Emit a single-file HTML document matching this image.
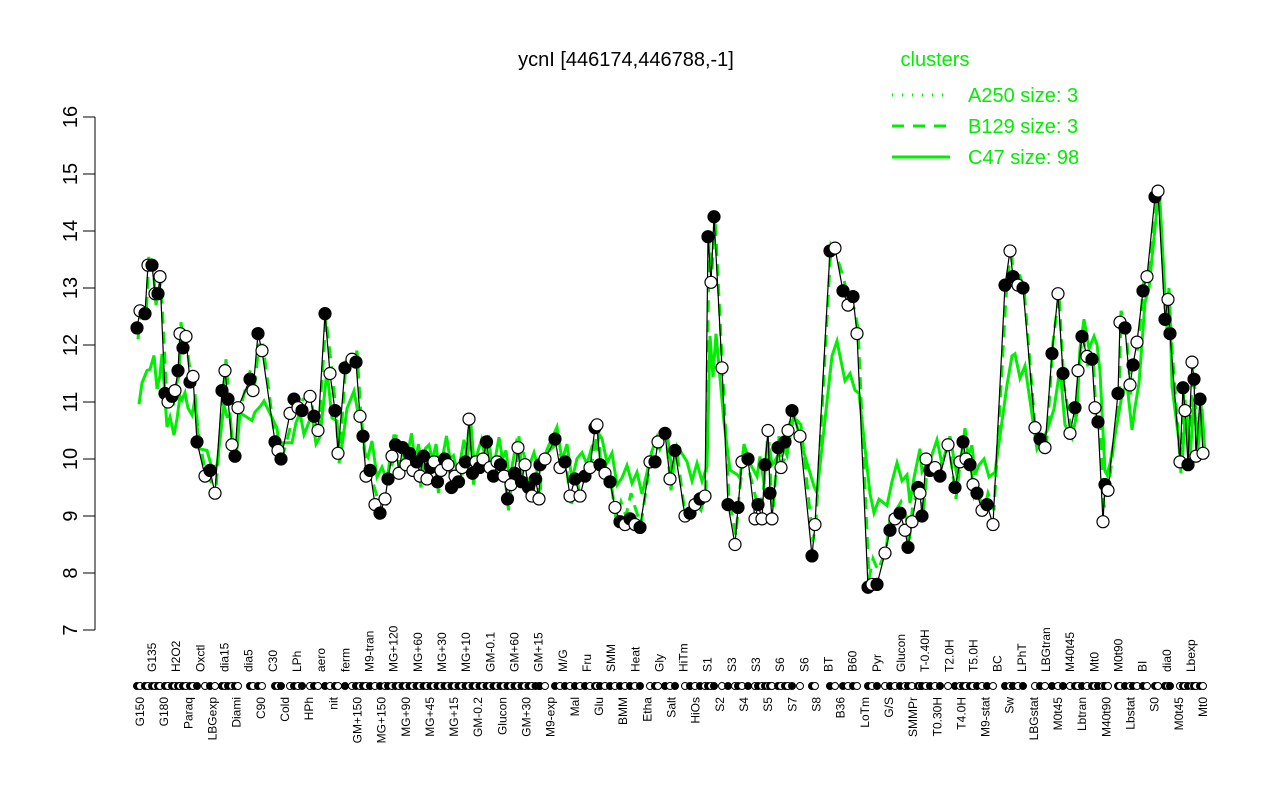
<!DOCTYPE html>
<html><head><meta charset="utf-8"><style>body{margin:0;background:#fff}svg{display:block;font-family:"Liberation Sans",sans-serif}</style></head>
<body><svg id="s" width="1280" height="800" xmlns="http://www.w3.org/2000/svg">
<text x="626" y="66" font-size="20" text-anchor="middle">ycnI [446174,446788,-1]</text>
<g stroke="#000" stroke-width="1"><line x1="95" y1="117" x2="95" y2="630"/></g>
<g id="yt"></g>
<text x="935" y="66" font-size="20" fill="#00ee00" text-anchor="middle">clusters</text>
<g stroke="#00ee00" stroke-width="3">
<line x1="892" y1="95" x2="950" y2="95" stroke-dasharray="1 9"/>
<line x1="892" y1="126" x2="950" y2="126" stroke-dasharray="12 9"/>
<line x1="892" y1="157" x2="950" y2="157"/></g>
<g font-size="20" fill="#00ee00"><text x="968" y="102">A250 size: 3</text><text x="968" y="133">B129 size: 3</text><text x="968" y="164">C47 size: 98</text></g>
<g id="g"></g><g id="b"></g><g id="p"></g><g id="r"></g><g id="l" font-size="12"></g>
</svg>
<script>
var NS="http://www.w3.org/2000/svg";function el(p,t,a,tx){var e=document.createElementNS(NS,t);for(var k in a)e.setAttribute(k,a[k]);if(tx)e.textContent=tx;document.getElementById(p).appendChild(e);return e;}
function Y(v){return 630-(v-7)*57;}
for(var v=7;v<=16;v++){el("yt","line",{x1:95,y1:Y(v),x2:83,y2:Y(v),stroke:"#000"});el("yt","text",{x:70,y:Y(v)+7,"font-size":20,"text-anchor":"middle",transform:"rotate(-90 70 "+Y(v)+")"},v);}
var d=[[137,12.3],[140,12.6],[145,12.55],[148,13.4],[152,13.4],[155,12.9],[158,12.9],[160,13.2],[165,11.15],[168,11.0],[172,11.1],[175,11.2],[178,11.55],[180,12.2],[183,11.95],[186,12.15],[190,11.35],[193,11.45],[197,10.3],[205,9.7],[210,9.8],[215,9.4],[222,11.2],[225,11.55],[228,11.05],[232,10.25],[235,10.05],[238,10.9],[250,11.4],[253,11.2],[258,12.2],[262,11.9],[275,10.3],[278,10.15],[281,10.0],[290,10.8],[294,11.05],[298,10.9],[302,10.85],[310,11.1],[314,10.75],[318,10.5],[325,12.55],[330,11.5],[335,10.85],[338,10.1],[345,11.6],[352,11.75],[356,11.7],[360,10.75],[363,10.4],[366,9.7],[370,9.8],[375,9.2],[380,9.05],[385,9.3],[388,9.65]];
var mid=[10.05,10.25,9.75,10.2,9.9,10.1,9.8,9.95,9.7,10.05,9.65,9.85,9.95,9.6,9.8,10.0,9.9,9.5,9.7,9.6,9.85,9.95,10.7,9.75,9.95,9.85,10.0,10.3,9.85,9.7,9.95,9.9,9.7,9.3,9.55,9.75,10.2,9.6,9.9,9.5,9.35,9.65,9.3];
for(var i=0;i<mid.length;i++)d.push([392+i*3.5,mid[i]]);
d=d.concat([[540,9.9],[545,10.0],[555,10.35],[560,9.85],[565,9.95],[570,9.35],[575,9.65],[580,9.35],[585,9.7],[590,9.85],[595,10.55],[597,10.6],[600,9.9],[605,9.75],[610,9.6],[615,9.15],[620,8.9],[625,8.85],[630,8.95],[635,8.85],[640,8.8],[650,9.95],[655,9.95],[658,10.3],[665,10.45],[670,9.65],[675,10.15],[685,9.0],[690,9.05],[695,9.2],[700,9.3],[705,9.35],[708,13.9],[711,13.1],[714,14.25],[722,11.6],[728,9.2],[735,8.5],[738,9.15],[742,9.95],[748,10.0],[755,8.95],[758,9.2],[762,8.95],[765,9.9],[768,10.5],[770,9.4],[772,8.95],[778,10.2],[781,9.85],[785,10.3],[788,10.5],[792,10.85],[800,10.4],[812,8.3],[815,8.85],[830,13.65],[835,13.7],[843,12.95],[848,12.7],[853,12.85],[857,12.2],[868,7.75],[872,7.8],[877,7.8],[885,8.35],[890,8.75],[895,8.95],[900,9.05],[905,8.75],[908,8.45],[912,8.9],[918,9.5],[920,9.4],[922,9.0],[926,10.0],[930,9.8],[935,9.85],[940,9.7],[948,10.25],[955,9.5],[960,9.95],[963,10.3],[966,10.0],[970,9.9],[973,9.55],[977,9.4],[982,9.1],[987,9.2],[993,8.85],[1005,13.05],[1010,13.65],[1013,13.2],[1018,13.05],[1023,13.0],[1035,10.55],[1040,10.35],[1045,10.2],[1052,11.85],[1058,12.9],[1063,11.5],[1070,10.45],[1075,10.9],[1078,11.55],[1082,12.15],[1087,11.8],[1092,11.75],[1095,10.9],[1098,10.65],[1103,8.9],[1105,9.55],[1108,9.45],[1118,11.15],[1120,12.4],[1125,12.3],[1130,11.3],[1133,11.65],[1137,12.05],[1143,12.95],[1147,13.2],[1155,14.6],[1158,14.7],[1165,12.45],[1168,12.8],[1170,12.2],[1180,9.95],[1183,11.25],[1185,10.85],[1188,9.9],[1192,11.7],[1194,11.4],[1196,10.05],[1200,11.05],[1203,10.1]]);
var pb="",pg="",pd="";d.forEach(function(q,i){pb+=q[0]+","+Y(q[1])+" ";
var gv=10.3+(q[1]-10.3)*0.45+((i*7)%5-2)*0.12; if(q[0]>1075&&q[0]<1100)gv+=1.2; if(q[0]>1140&&q[0]<1170)gv=q[1]-0.2;
pg+=(q[0]+2)+","+Y(gv)+" ";
var dv=q[1]+((i*3)%5-2)*0.1; if(q[1]<9)dv+=0.25;pd+=(q[0]+1)+","+Y(dv)+" ";});
el("g","polyline",{points:pg,fill:"none",stroke:"#00ee00","stroke-width":3});
el("g","polyline",{points:pd,fill:"none",stroke:"#00ee00","stroke-width":3,"stroke-dasharray":"12 8"});
el("b","polyline",{points:pb,fill:"none",stroke:"#000","stroke-width":1.2});
d.forEach(function(q,i){el("p","circle",{cx:q[0],cy:Y(q[1]),r:6,fill:i%2?"#fff":"#000",stroke:"#000","stroke-width":1.2});
el("r","circle",{cx:q[0],cy:686,r:3.5,fill:i%2?"#fff":"#000",stroke:"#000","stroke-width":1});});
var L=["G150","G135","G180","H2O2","Paraq","Oxctl","LBGexp","dia15","Diami","dia5","C90","C30","Cold","LPh","HPh","aero","nit","ferm","GM+150","M9-tran","MG+150","MG+120","MG+90","MG+60","MG+45","MG+30","MG+15","MG+10","GM-0.2","GM-0.1","Glucon","GM+60","GM+30","GM+15","M9-exp","M/G","Mal","Fru","Glu","SMM","BMM","Heat","Etha","Gly","Salt","HiTm","HiOs","S1","S2","S3","S4","S3","S5","S6","S7","S6","S8","BT","B36","B60","LoTm","Pyr","G/S","Glucon","SMMPr","T-0.40H","T0.30H","T2.0H","T4.0H","T5.0H","M9-stat","BC","Sw","LPhT","LBGstat","LBGtran","M0t45","M40t45","Lbtran","Mt0","M40t90","M0t90","Lbstat","BI","S0","dia0","M0t45","Lbexp","Mt0"];
var n=L.length;L.forEach(function(t,i){var x=140+i*(1063/(n-1));var up=i%2==1;
var tx=up?"rotate(-90 "+(x+4)+" 672)":"rotate(-90 "+(x+4)+" 697)";el("l","text",{x:x+4,y:up?672:697,"text-anchor":up?"start":"end",transform:tx},t);});
</script></body></html>
